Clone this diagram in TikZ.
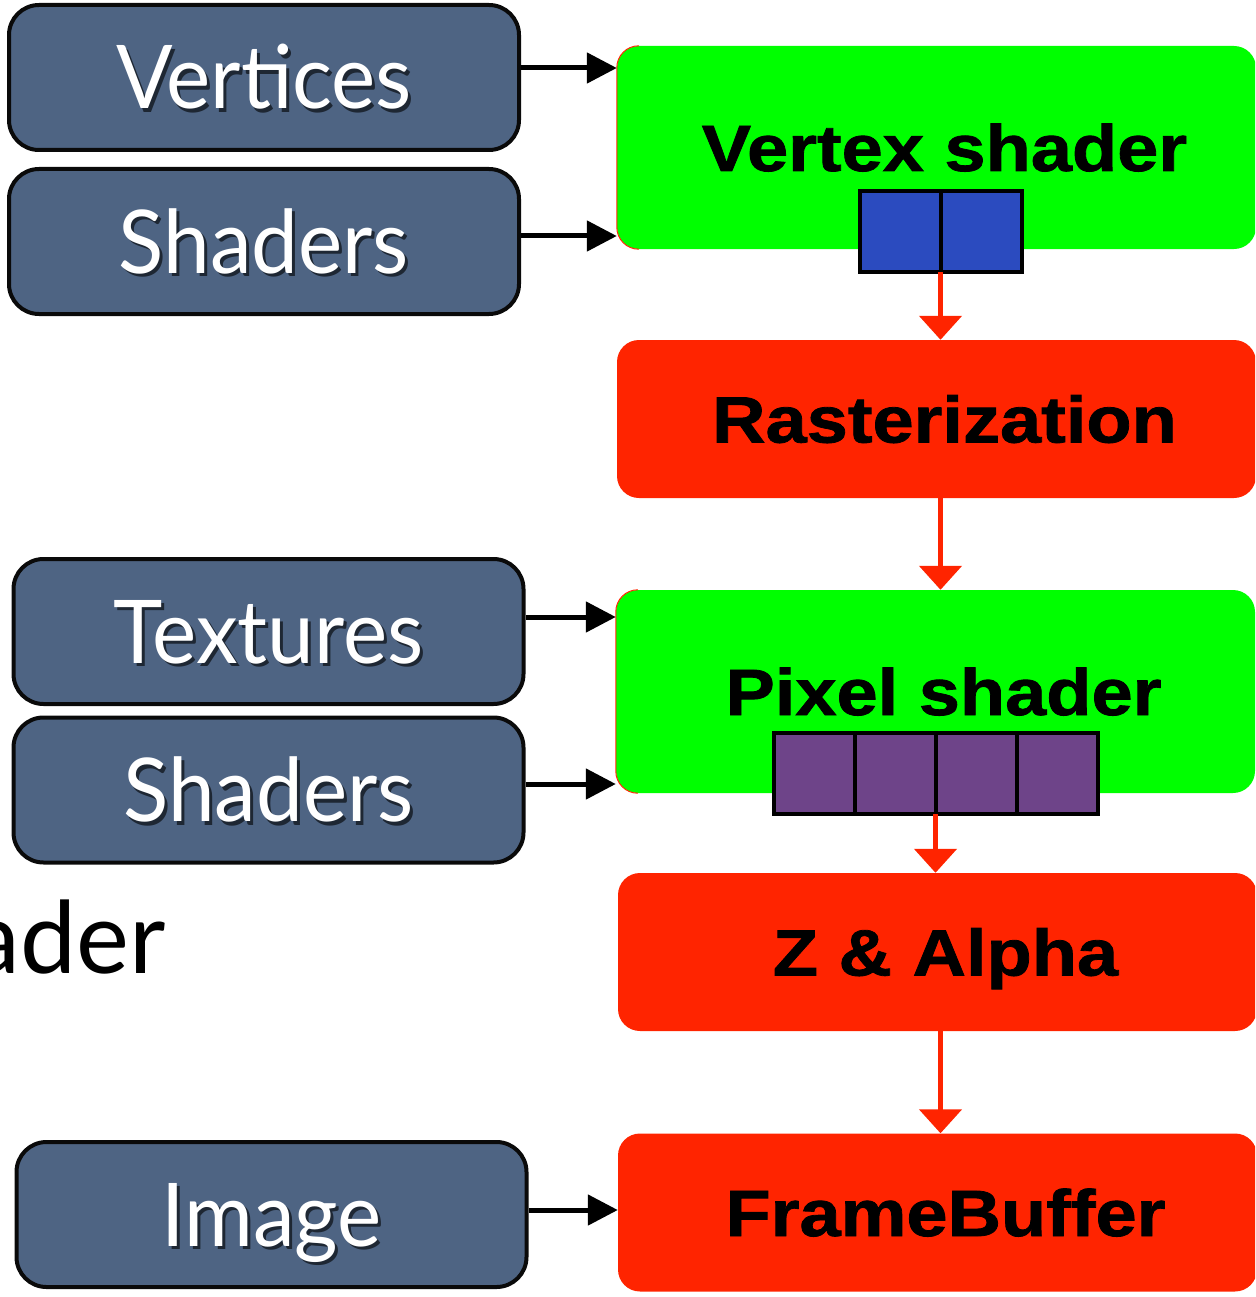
\documentclass[tikz,border=0pt]{standalone}
\usepackage{fontspec}
\setmainfont{Lato}
\newfontfamily\labelfont[FakeStretch=0.95]{Lato}
\newfontfamily\heavyfont[FakeStretch=1.13,FakeBold=1.2]{Liberation Sans Bold}
\usetikzlibrary{arrows.meta,calc}

\definecolor{slate}{HTML}{4E6483}
\definecolor{slateedge}{HTML}{0A0A0A}
\definecolor{stagegreen}{HTML}{00FF00}
\definecolor{stagered}{HTML}{FF2400}
\definecolor{regblue}{HTML}{2B4BBF}
\definecolor{regpurple}{HTML}{6E4489}
\definecolor{shadowc}{HTML}{1E2733}

% white label with a soft dark drop shadow
\newcommand\shadowed[1]{\rlap{\kern3pt\raisebox{-3.5pt}{\color{shadowc}#1}}#1}
% heavy stage label, nudged slightly right of the box centre
\newcommand\stagetext[1]{\kern16pt#1}

\tikzset{
  inbox/.style={draw=slateedge, line width=4pt, fill=slate, rounded corners=30pt,
    minimum width=510pt, minimum height=145pt, inner sep=0pt,
    text=white, font=\labelfont\fontsize{88}{88}\selectfont, text height=63pt, text depth=0pt},
  stagebox/.style={rounded corners=22pt, inner sep=0pt, minimum width=639pt,
    font=\heavyfont\fontsize{65.5}{65.5}\selectfont, text height=47pt, text depth=0pt},
  greenstage/.style={stagebox, fill=stagegreen, minimum height=203pt},
  redstage/.style={stagebox, fill=stagered, minimum height=158pt},
  reg/.style={draw=black, line width=4pt, minimum width=81pt, minimum height=81pt,
    inner sep=0pt, outer sep=0pt},
  feed/.style={draw=black, line width=5pt, -{Triangle[length=30pt,width=30pt]}},
  flow/.style={draw=stagered, line width=5pt, -{Triangle[length=24pt,width=42pt]}},
  edgeline/.style={draw=stagered, line width=1pt},
}

\begin{document}
\begin{tikzpicture}[x=1pt,y=-1pt]
\useasboundingbox (0,0) rectangle (1255,1297);
\clip (0,0) rectangle (1255,1297);

% input resources
\node[inbox] (vert) at (264,77.5)    {\shadowed{Vertices}};
\node[inbox] (vshd) at (264,241.5)   {\shadowed{Shaders}};
\node[inbox] (tex)  at (268.5,631.5) {\shadowed{Textures}};
\node[inbox] (pshd) at (268.5,790)   {\shadowed{Shaders}};
\node[inbox] (img)  at (271.5,1214.5){\shadowed{Image}};

% fragment of a caption running off the left edge
\node[anchor=base east, inner sep=0pt, font=\fontsize{100}{100}\selectfont] (cap) at (166,973) {ader};

% pipeline stages
\node[greenstage] (vs) at (936.5,147.5)  {\stagetext{Vertex shader}};
\node[redstage]   (ras) at (936.5,419)   {\stagetext{Rasterization}};
\node[greenstage] (ps) at (935.5,691.5)  {\stagetext{Pixel shader}};
\node[redstage]   (za) at (937.5,952)    {\stagetext{Z \& Alpha}};
\node[redstage]   (fb) at (937.5,1212.5) {\stagetext{FrameBuffer}};

% thin red rim along the left side of the shader stages
\draw[edgeline] ($(vs.north west)+(22,0)$) arc[start angle=90, end angle=180, radius=22pt]
  -- ($(vs.south west)+(0,-22)$) arc[start angle=180, end angle=270, radius=22pt];
\draw[edgeline] ($(ps.north west)+(22,0)$) arc[start angle=90, end angle=180, radius=22pt]
  -- ($(ps.south west)+(0,-22)$) arc[start angle=180, end angle=270, radius=22pt];

% register slots
\node[reg, fill=regblue, anchor=east] (vr1) at (940.5,231.5) {};
\node[reg, fill=regblue, anchor=west] (vr2) at (940.5,231.5) {};
\node[reg, fill=regpurple] (pr1) at (814,773.5) {};
\node[reg, fill=regpurple, anchor=west] (pr2) at (pr1.east) {};
\node[reg, fill=regpurple, anchor=west] (pr3) at (pr2.east) {};
\node[reg, fill=regpurple, anchor=west] (pr4) at (pr3.east) {};

% inputs into stages
\draw[feed] (vert.east |- 0,68)   -- (vs.west |- 0,68);
\draw[feed] (vshd.east |- 0,236)  -- (vs.west |- 0,236);
\draw[feed] (tex.east |- 0,617)   -- (ps.west |- 0,617);
\draw[feed] (pshd.east |- 0,784)  -- (ps.west |- 0,784);
\draw[feed] (img.east |- 0,1210)  -- (fb.west |- 0,1210);

% data flow down the pipeline
\draw[flow] (vr1.south east) -- (vr1.south east |- ras.north);
\draw[flow] (ras.south -| vr1.south east) -- (ps.north -| vr1.south east);
\draw[flow] (pr2.south east) -- (pr2.south east |- za.north);
\draw[flow] (za.south -| vr1.south east) -- (fb.north -| vr1.south east);
\end{tikzpicture}
\end{document}
